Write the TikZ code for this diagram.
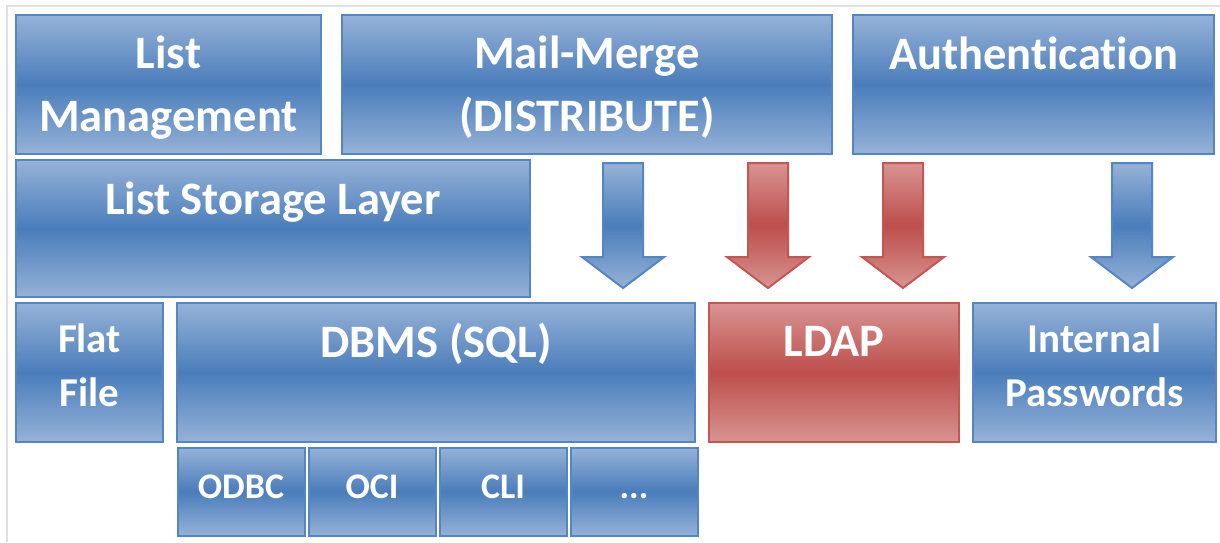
\documentclass[tikz,border=0pt]{standalone}
\usepackage{fontspec}
\setmainfont{Carlito}[Ligatures=NoCommon]
\usetikzlibrary{positioning}

\definecolor{blueLight}{RGB}{150,178,215}
\definecolor{blueMid}{RGB}{74,125,187}
\definecolor{blueEdge}{RGB}{84,133,196}
\definecolor{redLight}{RGB}{216,148,146}
\definecolor{redMid}{RGB}{189,78,75}
\definecolor{redEdge}{RGB}{196,86,83}
\definecolor{frameGray}{RGB}{224,224,226}

\tikzset{
  bluebox/.style={draw=blueEdge, line width=2pt, top color=blueLight,
    bottom color=blueLight, middle color=blueMid, inner sep=0pt},
  redbox/.style={draw=redEdge, line width=2pt, top color=redLight,
    bottom color=redLight, middle color=redMid, inner sep=0pt},
  bluearrow/.style={bluebox, line join=miter},
  redarrow/.style={redbox, line join=miter},
  txt/.style={text=white, font=\bfseries\fontsize{46.5}{56}\selectfont,
    align=center, inner sep=0pt, anchor=base},
  midtxt/.style={txt, font=\bfseries\fontsize{41}{54}\selectfont},
  smalltxt/.style={txt, font=\bfseries\fontsize{36}{40}\selectfont},
  smallbox/.style={bluebox, minimum width=127pt, minimum height=88pt}
}

% block arrow pointing down: #1 style, #2 x of the tip
\newcommand{\blockarrow}[2]{%
  \path[#1] (#2-20,163) -- (#2+20,163) -- (#2+20,257) -- (#2+41,257)
    -- (#2,288) -- (#2-41,257) -- (#2-20,257) -- cycle;}

\begin{document}
\begin{tikzpicture}[x=1pt, y=-1pt]
  \useasboundingbox[fill=white] (0,0) rectangle (1220,542);
  \draw[frameGray, line width=1.5pt] (7,542) -- (7,6) -- (1220,6);

  % top row
  \node[bluebox, minimum width=305pt, minimum height=139pt] (lm) at (168.5,84.5) {};
  \node[bluebox, minimum width=490pt, minimum height=139pt] (mm) at (587,84.5) {};
  \node[bluebox, minimum width=361pt, minimum height=139pt] (auth) at (1033.5,84.5) {};
  \node[txt, text width=300pt, font=\bfseries\fontsize{46.5}{63}\selectfont] (lmtext) at (168.5,68) {List\\Management};
  \node[txt, text width=480pt, font=\bfseries\fontsize{46.5}{63}\selectfont] (mmtext) at (587,68) {Mail-Merge\\(DISTRIBUTE)};
  \node[txt] (authtext) at (1033.5,69) {Authentication};

  % storage layer
  \node[bluebox, minimum width=514pt, minimum height=137pt] (lsl) at (273,228.5) {};
  \node[txt] (lsltext) at (273,214) {List Storage Layer};

  % arrows
  \blockarrow{bluearrow}{623}
  \blockarrow{redarrow}{768}
  \blockarrow{redarrow}{903}
  \blockarrow{bluearrow}{1132}

  % bottom row
  \node[bluebox, minimum width=147pt, minimum height=139pt] (ff) at (89.5,372.5) {};
  \node[bluebox, minimum width=518pt, minimum height=139pt] (dbms) at (436,372.5) {};
  \node[redbox, minimum width=250pt, minimum height=139pt] (ldap) at (834,372.5) {};
  \node[bluebox, minimum width=243pt, minimum height=139pt] (ip) at (1094.5,372.5) {};
  \node[midtxt, text width=140pt] (fftext) at (89.5,352) {Flat\\File};
  \node[txt] (dbmstext) at (436,357) {DBMS (SQL)};
  \node[txt] (ldaptext) at (834,356) {LDAP};
  \node[midtxt, text width=240pt] (iptext) at (1094.5,352) {Internal\\Passwords};

  % interfaces
  \node[smallbox] (odbc) at (241,491.5) {};
  \node[smallbox, right=2pt of odbc] (oci) {};
  \node[smallbox, right=2pt of oci] (cli) {};
  \node[smallbox, right=2pt of cli] (more) {};
  \node[smalltxt] at (odbc.center |- 0,498) {ODBC};
  \node[smalltxt] at (oci.center |- 0,498) {OCI};
  \node[smalltxt] at (cli.center |- 0,498) {CLI};
  \node[smalltxt] at (more.center |- 0,498) {...};
\end{tikzpicture}
\end{document}
